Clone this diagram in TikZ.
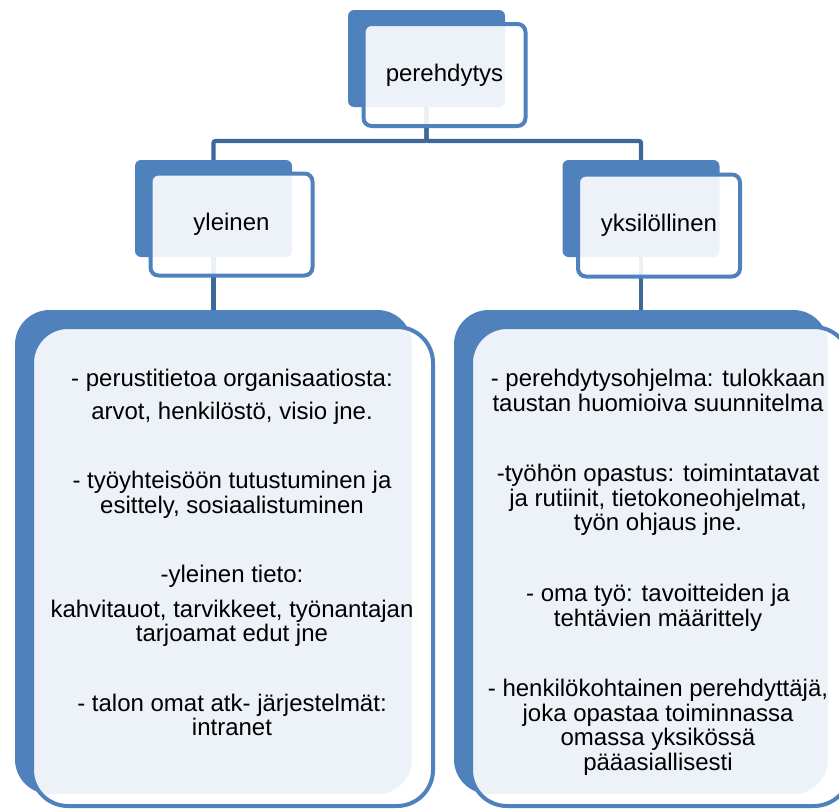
\documentclass[tikz,border=0pt]{standalone}
\usepackage{fontspec}
\setmainfont{Liberation Sans}
\usetikzlibrary{positioning}
\definecolor{accent}{HTML}{4F81BD}
\definecolor{linkblue}{HTML}{3D6899}

\begin{document}
\begin{tikzpicture}[x=0.75pt, y=-0.75pt,
  every node/.style={inner sep=0pt, outer sep=0pt},
  back/.style={fill=accent, rounded corners=4.5pt,
               minimum width=117.75pt, minimum height=72.75pt},
  front/.style={draw=accent, line width=3pt, fill=white, fill opacity=0.9,
                text opacity=1, rounded corners=6pt, minimum width=121.5pt,
                minimum height=76.5pt, font=\fontsize{18pt}{18.2pt}\selectfont},
  bigback/.style={fill=accent, rounded corners=26pt,
                  minimum height=363pt},
  bigfront/.style={draw=accent, line width=3pt, fill=white, fill opacity=0.9,
                   rounded corners=27pt, minimum height=359.25pt},
  link/.style={draw=linkblue, line width=3.2pt, rounded corners=1.5pt},
  txt/.style={align=center, anchor=north,
              font=\fontsize{18pt}{18.2pt}\selectfont}]
  \useasboundingbox (0,0) rectangle (839,810);
  % back shapes
  \node[back] (topB) at (426.5,58.5) {};
  \node[back] (midLB) at (213.5,208.5) {};
  \node[back] (midRB) at (641,208.5) {};
  \node[bigback, minimum width=297.75pt] (botLB) at (213.5,552) {};
  \node[bigback, minimum width=280.5pt] (botRB) at (641,552) {};
  % connectors
  \draw[link] (topB.south) -- ++(0,34) -| (midLB.north);
  \draw[link] (topB.south) -- ++(0,34) -| (midRB.north);
  \draw[link] (midLB.south) -- (botLB.north);
  \draw[link] (midRB.south) -- (botRB.north);
  % front shapes
  \node[front] (topF) at (444.5,75) {perehdytys};
  \node[front] (midLF) at (231.5,224.5) {yleinen};
  \node[front] (midRF) at (659,225.5) {yksilöllinen};
  \node[bigfront, minimum width=300.75pt] (botLF) at (232.5,566.5) {};
  \node[bigfront, minimum width=284.25pt] (botRF) at (660.5,566.5) {};
  % lists
  \node[txt] (listL) at (232,369) {- perustitietoa organisaatiosta:\\[6.5pt]
    arvot, henkilöstö, visio jne.\\[33.9pt]
    - työyhteisöön tutustuminen ja\\
    esittely, sosiaalistuminen\\[33.9pt]
    -yleinen tieto:\\[8pt]
    kahvitauot, tarvikkeet, työnantajan\\
    tarjoamat edut jne\\[33.9pt]
    - talon omat atk- järjestelmät:\\
    intranet};
  \node[txt, font=\fontsize{18pt}{18.5pt}\selectfont] (listR) at (658,369)
    {- perehdytysohjelma: tulokkaan\\
    taustan huomioiva suunnitelma\\[34.4pt]
    -työhön opastus: toimintatavat\\
    ja rutiinit, tietokoneohjelmat,\\
    työn ohjaus jne.\\[34.4pt]
    - oma työ: tavoitteiden ja\\
    tehtävien määrittely\\[34.4pt]
    - henkilökohtainen perehdyttäjä,\\
    joka opastaa toiminnassa\\
    omassa yksikössä\\
    pääasiallisesti};
\end{tikzpicture}
\end{document}
